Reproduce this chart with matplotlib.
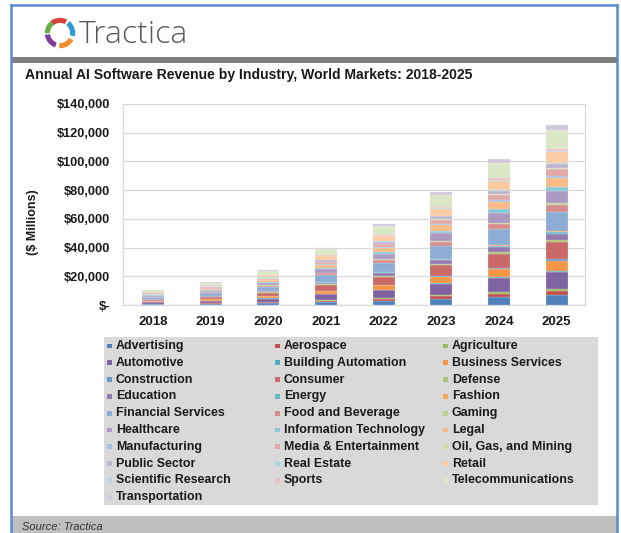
import matplotlib
matplotlib.use("Agg")
import matplotlib.pyplot as plt
from matplotlib.patches import Rectangle, Wedge
from matplotlib.lines import Line2D
from matplotlib.colors import to_rgb
import numpy as np

plt.rcParams['font.family'] = ['Liberation Sans', 'DejaVu Sans']

years = ['2018', '2019', '2020', '2021', '2022', '2023', '2024', '2025']
industries = [
    'Advertising', 'Aerospace', 'Agriculture',
    'Automotive', 'Building Automation', 'Business Services',
    'Construction', 'Consumer', 'Defense',
    'Education', 'Energy', 'Fashion',
    'Financial Services', 'Food and Beverage', 'Gaming',
    'Healthcare', 'Information Technology', 'Legal',
    'Manufacturing', 'Media & Entertainment', 'Oil, Gas, and Mining',
    'Public Sector', 'Real Estate', 'Retail',
    'Scientific Research', 'Sports', 'Telecommunications',
    'Transportation',
]

# Revenue ($ millions) per industry, in the order of `industries`
rev_2018 = [580, 230, 120, 1000, 60, 580, 70, 1000, 150, 310, 100, 70, 1120, 420,
            75, 700, 250, 500, 150, 370, 70, 250, 60, 620, 85, 125, 1100, 270]
rev_2019 = [890, 360, 180, 1520, 90, 890, 100, 1530, 230, 480, 150, 100, 1720, 640,
            115, 1080, 380, 760, 230, 570, 100, 380, 90, 950, 130, 190, 1680, 420]
rev_2020 = [1350, 550, 270, 2300, 140, 1370, 160, 2330, 350, 740, 230, 160, 2620, 970,
            180, 1650, 580, 1160, 350, 870, 160, 580, 140, 1460, 190, 290, 2560, 640]
rev_2021 = [2200, 900, 450, 3800, 220, 2250, 250, 3800, 570, 1200, 380, 250, 4300, 1600,
            290, 2700, 950, 1900, 570, 1430, 250, 950, 220, 2400, 320, 480, 4200, 1050]
rev_2022 = [3100, 1260, 630, 5400, 320, 3150, 360, 5400, 810, 1700, 540, 360, 6050, 2250,
            400, 3800, 1350, 2700, 810, 2000, 360, 1350, 310, 3370, 450, 670, 5920, 1480]
rev_2023 = [4400, 1800, 880, 7600, 440, 4400, 500, 7500, 1130, 2400, 750, 500, 8500, 3150,
            570, 5300, 1900, 3750, 1130, 2850, 500, 1900, 440, 4700, 630, 950, 8300, 2080]
rev_2024 = [5700, 2300, 1100, 9700, 550, 5700, 650, 9800, 1450, 3100, 950, 650, 11000, 4000,
            730, 6900, 2400, 4850, 1450, 3650, 650, 2400, 570, 6100, 800, 1200, 10700, 2650]
rev_2025 = [7000, 2800, 1400, 12000, 700, 7000, 800, 12000, 1800, 3800, 1200, 800, 13500, 5000,
            900, 8500, 3000, 6000, 1800, 4500, 800, 3000, 700, 7500, 1000, 1500, 13200, 3300]

yticks = [0, 20000, 40000, 60000, 80000, 100000, 120000, 140000]
ytick_labels = ['$-', '$20,000', '$40,000', '$60,000', '$80,000', '$100,000', '$120,000', '$140,000']

base_colors = ['#4F81BD', '#C0504D', '#9BBB59', '#8064A2', '#4BACC6', '#F79646']
tints = [0.0, 0.15, 0.35, 0.5, 0.65]


def color_for(i):
    c = np.array(to_rgb(base_colors[i % 6]))
    t = tints[i // 6]
    return tuple(c + (1 - c) * t)


colors = [color_for(i) for i in range(len(industries))]

W, H = 621, 533
fig = plt.figure(figsize=(W / 100, H / 100), dpi=100)
fig.patch.set_facecolor('white')


def fx(x):
    return x / W


def fy(y):
    return 1 - y / H


def frect(x0, y0, x1, y1, **kw):
    r = Rectangle((fx(x0), fy(y1)), fx(x1) - fx(x0), fy(y0) - fy(y1),
                  transform=fig.transFigure, **kw)
    fig.add_artist(r)
    return r


# header gray band, footer band, legend box
frect(12, 57, 617, 63, facecolor='#7F7F7F', edgecolor='none')
frect(12, 516, 617, 540, facecolor='#BFBFBF', edgecolor='none')
frect(104, 337, 598, 505, facecolor='#D9D9D9', edgecolor='none')

# blue frame
frame_c = '#5B8BD0'
fig.add_artist(Line2D([fx(11), fx(11)], [fy(5), fy(540)], color=frame_c, lw=1.8, transform=fig.transFigure))
fig.add_artist(Line2D([fx(617), fx(617)], [fy(5), fy(540)], color=frame_c, lw=1.8, transform=fig.transFigure))
fig.add_artist(Line2D([fx(11), fx(617)], [fy(5), fy(5)], color=frame_c, lw=1.8, transform=fig.transFigure))

# logo
logo_ax = fig.add_axes([fx(44), fy(50), fx(76) - fx(44), fy(16) - fy(50)])
logo_ax.set_xlim(-1, 1)
logo_ax.set_ylim(-1, 1)
logo_ax.set_aspect('equal')
logo_ax.axis('off')
logo_cols = ['#2E9BD6', '#F28C28', '#7D3C98', '#6AAE45', '#D9403A']
starts = [45, -35, -115, 175, 120]
for c, s in zip(logo_cols, starts):
    logo_ax.add_patch(Wedge((0, 0), 0.95, s - 58, s + 6, width=0.32, facecolor=c, edgecolor='none'))
fig.text(fx(79), fy(35), 'Tractica', fontsize=23, color='#595959', family='Open Sans',
         fontweight='light', ha='left', va='center')

# title
fig.text(fx(25), fy(75), 'Annual AI Software Revenue by Industry, World Markets: 2018-2025',
         fontsize=10.1, fontweight='bold', color='#1A1A1A', ha='left', va='center')

# main axes
ax = fig.add_axes([fx(123), fy(305), fx(585) - fx(123), fy(104) - fy(305)])
data = [rev_2018, rev_2019, rev_2020, rev_2021, rev_2022, rev_2023, rev_2024, rev_2025]
vals = np.array(data, dtype=float)  # years x industries
x = np.arange(len(years))
bottom = np.zeros(len(years))
for j, name in enumerate(industries):
    ax.bar(x, vals[:, j], 0.38, bottom=bottom, color=colors[j], edgecolor='#F4F4F4',
           linewidth=0.15, zorder=3)
    bottom += vals[:, j]

ax.set_xlim(-0.52, 7.49)
ax.set_ylim(0, 140000)
ax.set_yticks(yticks)
ax.set_yticklabels(ytick_labels)
ax.set_xticks(x)
ax.set_xticklabels(years)
ax.tick_params(axis='both', length=0)
ax.tick_params(axis='y', pad=9.5, labelsize=9.2)
ax.tick_params(axis='x', pad=8, labelsize=9.5)
for lbl in ax.get_xticklabels() + ax.get_yticklabels():
    lbl.set_fontweight('bold')
    lbl.set_color('#1A1A1A')
ax.grid(axis='y', color='#D9D9D9', lw=0.9, zorder=0)
for sp in ax.spines.values():
    sp.set_color('#D9D9D9')
    sp.set_linewidth(0.9)
ax.set_facecolor('white')

fig.text(fx(33), fy(222), '($ Millions)', rotation=90, fontsize=9, fontweight='bold',
         color='#1A1A1A', ha='center', va='center')

# legend
marker_x = [107, 275, 443]
text_x = [116, 284, 452]
for i, name in enumerate(industries):
    row, col = divmod(i, 3)
    yc = 346 + row * 16.8
    frect(marker_x[col], yc - 2.4, marker_x[col] + 4.8, yc + 2.4, facecolor=colors[i], edgecolor='none')
    fig.text(fx(text_x[col]), fy(yc), name, fontsize=8.9, fontweight='bold', color='#1A1A1A',
             ha='left', va='center')

fig.text(fx(22), fy(527), 'Source: Tractica', fontsize=8, style='italic', color='#333333',
         ha='left', va='center')

fig.savefig('out.png', dpi=100)
